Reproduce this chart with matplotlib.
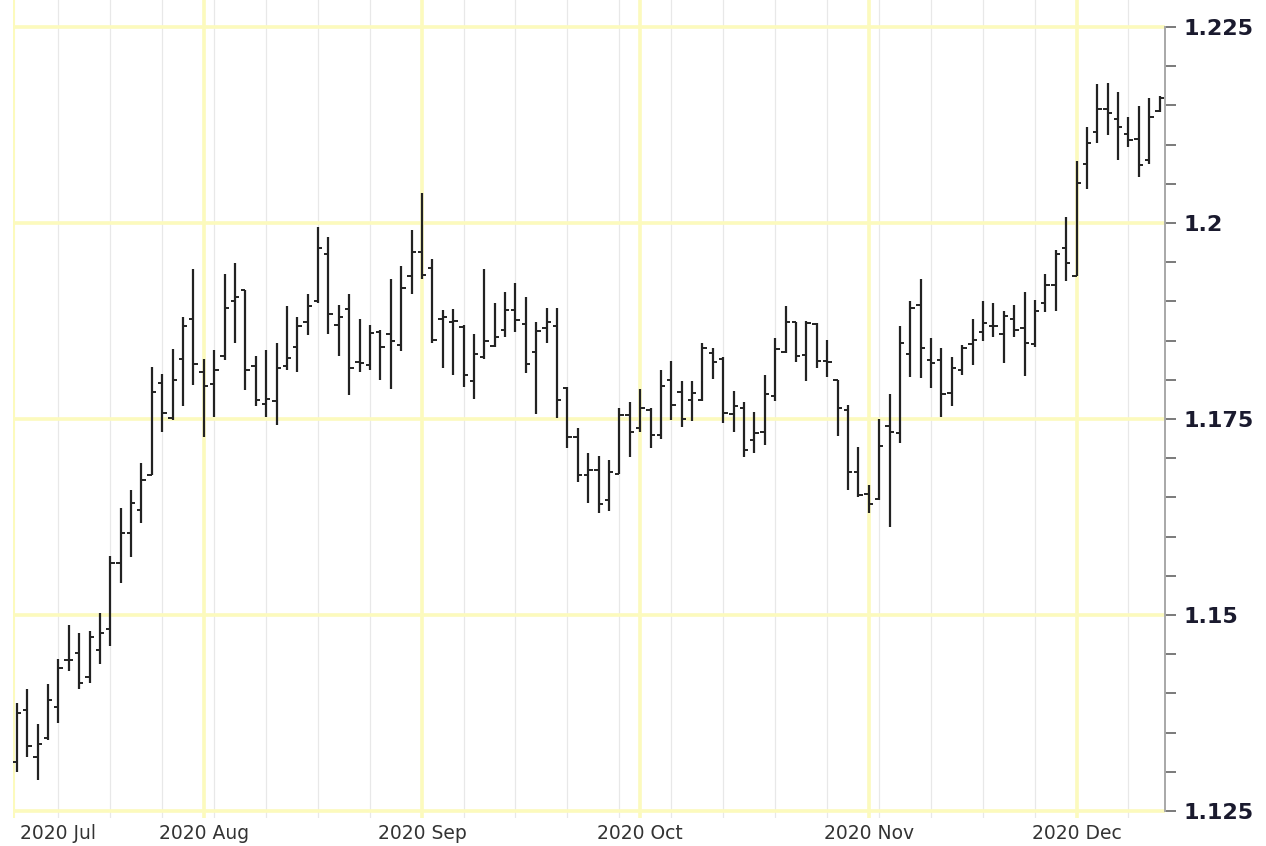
import numpy as np
import pandas as pd
import matplotlib
matplotlib.use("Agg")
import matplotlib.pyplot as plt
from matplotlib.ticker import MultipleLocator

# trading days shown (US holidays Sep 7 and Nov 26 have no bar)
dates = pd.bdate_range("2020-07-08", "2020-12-11")
dates = dates[~dates.isin(pd.to_datetime(["2020-09-07", "2020-11-26"]))]

opens = [1.1312, 1.1379, 1.1319, 1.1343, 1.1383, 1.1443, 1.1452, 1.1421, 1.1456, 1.1482,
         1.1566, 1.1604, 1.1634, 1.1679, 1.1796, 1.1751, 1.1826, 1.1877, 1.1810, 1.1795,
         1.1830, 1.1900, 1.1914, 1.1818, 1.1769, 1.1773, 1.1817, 1.1842, 1.1874, 1.1900,
         1.1961, 1.1870, 1.1890, 1.1823, 1.1819, 1.1861, 1.1859, 1.1844, 1.1932, 1.1963,
         1.1942, 1.1878, 1.1874, 1.1867, 1.1798, 1.1829, 1.1843, 1.1863, 1.1889, 1.1871,
         1.1836, 1.1866, 1.1868, 1.1790, 1.1727, 1.1679, 1.1685, 1.1647, 1.1680, 1.1755,
         1.1738, 1.1762, 1.1730, 1.1800, 1.1785, 1.1774, 1.1774, 1.1834, 1.1827, 1.1756,
         1.1764, 1.1723, 1.1734, 1.1779, 1.1836, 1.1874, 1.1832, 1.1871, 1.1824, 1.1800,
         1.1761, 1.1683, 1.1654, 1.1648, 1.1741, 1.1732, 1.1833, 1.1896, 1.1825, 1.1825,
         1.1783, 1.1813, 1.1846, 1.1861, 1.1869, 1.1859, 1.1878, 1.1866, 1.1846, 1.1898,
         1.1921, 1.1968, 1.1932, 1.2075, 1.2116, 1.2145, 1.2132, 1.2114, 1.2107, 1.2080,
         1.2143]
highs = [1.1388, 1.1406, 1.1361, 1.1412, 1.1444, 1.1487, 1.1477, 1.1479, 1.1502, 1.1575,
         1.1636, 1.1660, 1.1694, 1.1816, 1.1807, 1.1839, 1.1880, 1.1941, 1.1827, 1.1838,
         1.1935, 1.1949, 1.1915, 1.1830, 1.1838, 1.1847, 1.1894, 1.1880, 1.1910, 1.1995,
         1.1982, 1.1895, 1.1909, 1.1877, 1.1870, 1.1864, 1.1928, 1.1945, 1.1991, 1.2038,
         1.1954, 1.1889, 1.1890, 1.1870, 1.1859, 1.1941, 1.1898, 1.1912, 1.1923, 1.1905,
         1.1874, 1.1892, 1.1892, 1.1791, 1.1738, 1.1706, 1.1703, 1.1698, 1.1764, 1.1772,
         1.1788, 1.1764, 1.1813, 1.1824, 1.1798, 1.1798, 1.1847, 1.1840, 1.1829, 1.1786,
         1.1772, 1.1759, 1.1806, 1.1853, 1.1894, 1.1874, 1.1875, 1.1872, 1.1851, 1.1800,
         1.1768, 1.1714, 1.1666, 1.1750, 1.1782, 1.1869, 1.1900, 1.1929, 1.1853, 1.1840,
         1.1829, 1.1844, 1.1877, 1.1901, 1.1898, 1.1888, 1.1895, 1.1912, 1.1902, 1.1935,
         1.1966, 1.2007, 1.2079, 1.2122, 1.2177, 1.2179, 1.2167, 1.2135, 1.2149, 1.2159,
         1.2162]
lows = [1.1300, 1.1319, 1.1290, 1.1341, 1.1362, 1.1429, 1.1406, 1.1413, 1.1438, 1.1460,
        1.1541, 1.1574, 1.1617, 1.1679, 1.1733, 1.1749, 1.1766, 1.1793, 1.1727, 1.1753,
        1.1825, 1.1847, 1.1787, 1.1767, 1.1752, 1.1742, 1.1813, 1.1810, 1.1857, 1.1898,
        1.1859, 1.1830, 1.1781, 1.1810, 1.1813, 1.1800, 1.1788, 1.1837, 1.1910, 1.1928,
        1.1847, 1.1815, 1.1806, 1.1791, 1.1776, 1.1827, 1.1842, 1.1854, 1.1861, 1.1809,
        1.1757, 1.1847, 1.1751, 1.1713, 1.1670, 1.1643, 1.1630, 1.1633, 1.1680, 1.1702,
        1.1734, 1.1713, 1.1725, 1.1749, 1.1740, 1.1748, 1.1773, 1.1801, 1.1745, 1.1733,
        1.1702, 1.1706, 1.1717, 1.1773, 1.1834, 1.1823, 1.1799, 1.1815, 1.1803, 1.1728,
        1.1660, 1.1651, 1.1630, 1.1647, 1.1612, 1.1719, 1.1804, 1.1802, 1.1789, 1.1753,
        1.1767, 1.1806, 1.1819, 1.1849, 1.1855, 1.1822, 1.1855, 1.1805, 1.1842, 1.1887,
        1.1888, 1.1926, 1.1932, 1.2043, 1.2102, 1.2112, 1.2080, 1.2097, 1.2059, 1.2075,
        1.2141]
closes = [1.1375, 1.1333, 1.1336, 1.1392, 1.1432, 1.1442, 1.1413, 1.1472, 1.1477, 1.1566,
          1.1604, 1.1643, 1.1672, 1.1785, 1.1758, 1.1800, 1.1869, 1.1820, 1.1792, 1.1813,
          1.1891, 1.1906, 1.1813, 1.1774, 1.1775, 1.1815, 1.1828, 1.1868, 1.1894, 1.1968,
          1.1884, 1.1880, 1.1815, 1.1821, 1.1860, 1.1842, 1.1850, 1.1917, 1.1963, 1.1934,
          1.1851, 1.1880, 1.1875, 1.1806, 1.1833, 1.1850, 1.1855, 1.1889, 1.1876, 1.1820,
          1.1862, 1.1874, 1.1774, 1.1727, 1.1679, 1.1685, 1.1642, 1.1682, 1.1755, 1.1734,
          1.1764, 1.1730, 1.1792, 1.1768, 1.1750, 1.1783, 1.1840, 1.1823, 1.1758, 1.1767,
          1.1710, 1.1732, 1.1782, 1.1839, 1.1874, 1.1830, 1.1872, 1.1824, 1.1823, 1.1764,
          1.1682, 1.1653, 1.1642, 1.1716, 1.1734, 1.1847, 1.1891, 1.1840, 1.1821, 1.1782,
          1.1815, 1.1841, 1.1851, 1.1872, 1.1869, 1.1881, 1.1864, 1.1847, 1.1888, 1.1921,
          1.1961, 1.1949, 1.2051, 1.2102, 1.2145, 1.2140, 1.2122, 1.2106, 1.2074, 1.2135,
          1.2159]

yticks = [1.125, 1.15, 1.175, 1.2, 1.225]
ytick_labels = ["1.125", "1.15", "1.175", "1.2", "1.225"]

x = np.arange(len(dates))
month_start = np.r_[True, dates.month[1:] != dates.month[:-1]]
month_start[0] = False  # first bar is mid-July, its month line is off the chart
tuesdays = dates.dayofweek == 1

YELLOW = "#fcfabd"
fig = plt.figure(figsize=(12.66, 8.46), dpi=100)
ax = fig.add_axes([0.0103, 0.0331, 0.90995, 0.9669])
ax.set_xlim(-0.36, 110.52)
ax.set_ylim(1.12411, 1.22844)

# grid
for xi in x[tuesdays & ~month_start]:
    ax.axvline(xi, color="#e8e8e8", lw=0.9, zorder=0)
for xi in x[month_start]:
    ax.axvline(xi, color=YELLOW, lw=2.6, zorder=0)
for yv in yticks:
    ax.axhline(yv, color=YELLOW, lw=2.6, zorder=0)
ax.axvline(-0.36, color=YELLOW, lw=2.2, zorder=0)

# OHLC bars
bar_color = "#222222"
ax.vlines(x, lows, highs, color=bar_color, lw=1.6, zorder=3)
ax.hlines(opens, x - 0.42, x, color=bar_color, lw=1.4, zorder=3)
ax.hlines(closes, x, x + 0.42, color=bar_color, lw=1.4, zorder=3)

# axes styling
for s in ["top", "left", "bottom"]:
    ax.spines[s].set_visible(False)
ax.spines["right"].set_color("#a8a8a8")
ax.spines["right"].set_linewidth(1.4)
ax.spines["right"].set_bounds(1.125, 1.225)
ax.yaxis.tick_right()
ax.set_yticks(yticks)
ax.set_yticklabels(ytick_labels, fontsize=16, fontweight="bold", color="#1a1a2e")
ax.yaxis.set_minor_locator(MultipleLocator(0.005))
ax.tick_params(axis="y", which="both", length=8, width=1.3, color="#707070", pad=5)

ms_idx = x[month_start]
ax.set_xticks(ms_idx)
ax.set_xticklabels([d.strftime("%Y %b") for d in dates[month_start]],
                   fontsize=13.5, color="#333333")
ax.tick_params(axis="x", length=0, pad=4)
ax.annotate(dates[0].strftime("%Y %b"), xy=(0.3, 0),
            xycoords=("data", "axes fraction"), xytext=(0, -4),
            textcoords="offset points", ha="left", va="top",
            fontsize=13.5, color="#333333")

fig.savefig("out.png", dpi=100)
